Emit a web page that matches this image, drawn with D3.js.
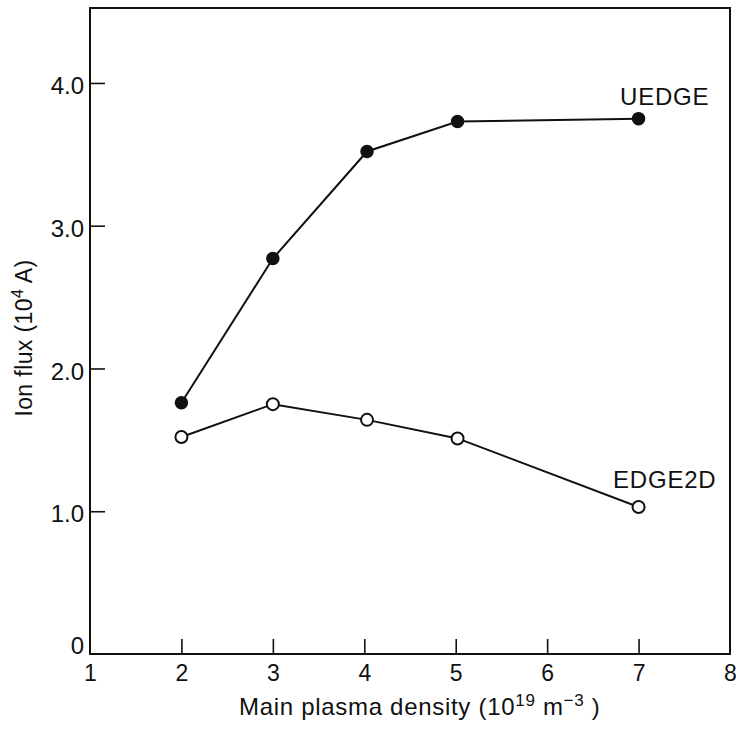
<!DOCTYPE html>
<html><head><meta charset="utf-8">
<script src="https://cdn.jsdelivr.net/npm/d3@7/dist/d3.min.js"></script>
<style>body{margin:0;background:#fff}svg{display:block}text{font-family:"Liberation Sans",Arial,Helvetica,sans-serif;fill:#111}</style>
</head><body>
<script>
const densities = [2, 3, 4.03, 5.02, 7];
const uedge = [1.76, 2.77, 3.52, 3.73, 3.75];
const edge2d = [1.52, 1.75, 1.64, 1.51, 1.03];
const xTicks = [1, 2, 3, 4, 5, 6, 7, 8];
const yTicks = [0, 1, 2, 3, 4];
const yTickLabels = ["0", "1.0", "2.0", "3.0", "4.0"];

const W = 736, H = 729;
const m = {left: 90, right: 6, top: 8, bottom: 75};
const svg = d3.select("body").append("svg").attr("width", W).attr("height", H);
const x = d3.scaleLinear().domain([1, 8]).range([m.left, W - m.right]);
const y = d3.scaleLinear().domain([0, 4.525]).range([H - m.bottom, m.top]);
const ink = "#111";

// frame
svg.append("rect").attr("x", x(1)).attr("y", y(4.525)).attr("width", x(8) - x(1)).attr("height", y(0) - y(4.525))
  .attr("fill", "none").attr("stroke", ink).attr("stroke-width", 2);

// x axis ticks inward
const xAxis = d3.axisBottom(x).tickValues(xTicks).tickSize(-15).tickPadding(11).tickFormat(d3.format("d"));
const gx = svg.append("g").attr("transform", `translate(0,${y(0)})`).call(xAxis);
gx.select(".domain").remove();
gx.selectAll(".tick line").attr("stroke", ink).attr("stroke-width", 1.6)
  .style("display", d => (d === 1 || d === 8) ? "none" : null);
gx.selectAll(".tick text").attr("font-size", 23).attr("fill", ink).attr("dy", "0.71em");

// y axis ticks inward
const yAxis = d3.axisLeft(y).tickValues(yTicks).tickSize(-15).tickPadding(6).tickFormat((d, i) => yTickLabels[i]);
const gy = svg.append("g").attr("transform", `translate(${x(1)},0)`).call(yAxis);
gy.select(".domain").remove();
gy.selectAll(".tick line").attr("stroke", ink).attr("stroke-width", 1.6)
  .style("display", d => d === 0 ? "none" : null);
gy.selectAll(".tick text").attr("font-size", 24).attr("fill", ink)
  .attr("dy", d => d === 0 ? "-0.02em" : "0.44em");

// lines
const line = d3.line().x(d => x(d[0])).y(d => y(d[1]));
const s1 = densities.map((d, i) => [d, uedge[i]]);
const s2 = densities.map((d, i) => [d, edge2d[i]]);
svg.append("path").datum(s1).attr("d", line).attr("fill", "none").attr("stroke", ink).attr("stroke-width", 2);
svg.append("path").datum(s2).attr("d", line).attr("fill", "none").attr("stroke", ink).attr("stroke-width", 2);
svg.selectAll(".p1").data(s1).enter().append("circle").attr("cx", d => x(d[0])).attr("cy", d => y(d[1])).attr("r", 6)
  .attr("fill", ink).attr("stroke", ink).attr("stroke-width", 1.5);
svg.selectAll(".p2").data(s2).enter().append("circle").attr("cx", d => x(d[0])).attr("cy", d => y(d[1])).attr("r", 6)
  .attr("fill", "#fff").attr("stroke", ink).attr("stroke-width", 2);

// series labels
svg.append("text").attr("x", 620).attr("y", y(3.75) - 14).attr("font-size", 24).attr("letter-spacing", 0.8).text("UEDGE");
svg.append("text").attr("x", 613).attr("y", y(1.03) - 19).attr("font-size", 24).attr("letter-spacing", 0.8).text("EDGE2D");

// axis titles
const xt = svg.append("text").attr("x", 239).attr("y", 715).attr("font-size", 24).attr("letter-spacing", 0.7);
xt.append("tspan").text("Main plasma density (10");
xt.append("tspan").attr("font-size", 17).attr("dy", -9).text("19");
xt.append("tspan").attr("dy", 9).text(" m");
xt.append("tspan").attr("font-size", 17).attr("dy", -9).text("\u22123");
xt.append("tspan").attr("dy", 9).text(" )");

const yt = svg.append("text").attr("transform", `translate(32,338) rotate(-90)`).attr("text-anchor", "middle").attr("font-size", 23).attr("letter-spacing", 0.4);
yt.append("tspan").text("Ion flux (10");
yt.append("tspan").attr("font-size", 16).attr("dy", -9).text("4");
yt.append("tspan").attr("dy", 9).text(" A)");
</script>
</body></html>
